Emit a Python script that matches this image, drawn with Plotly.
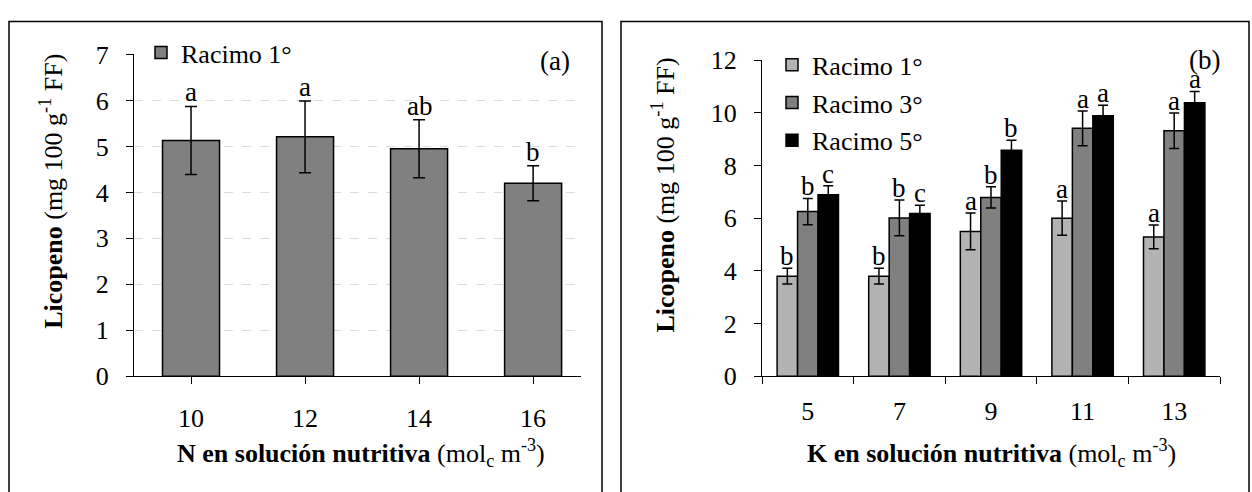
import plotly.graph_objects as go

W, H = 1252, 492
FONT = "Liberation Serif, Times New Roman, Times, serif"

# ---------------- data ----------------
n_cats = ["10", "12", "14", "16"]
n_r1 = [5.13, 5.21, 4.95, 4.20]
n_r1_err = [0.74, 0.78, 0.63, 0.38]
n_letters = ["a", "a", "ab", "b"]

k_cats = ["5", "7", "9", "11", "13"]
k_r1 = [3.80, 3.80, 5.50, 6.00, 5.29]
k_r1_err = [0.30, 0.30, 0.70, 0.65, 0.45]
k_r3 = [6.25, 6.01, 6.79, 9.41, 9.32]
k_r3_err = [0.50, 0.68, 0.40, 0.66, 0.67]
k_r5 = [6.89, 6.18, 8.58, 9.89, 10.38]
k_r5_err = [0.34, 0.31, 0.38, 0.40, 0.43]
k_r1_letters = ["b", "b", "a", "a", "a"]
k_r3_letters = ["b", "b", "b", "a", "a"]
k_r5_letters = ["c", "c", "b", "a", "a"]

series_names = ["Racimo 1°", "Racimo 3°", "Racimo 5°"]
series_colors = ["#b3b3b3", "#808080", "#000000"]


def px(x):
    return x / W


def py(y):
    return 1 - y / H


fig = go.Figure()

# left panel
fig.add_trace(go.Bar(
    x=n_cats, y=n_r1, name=series_names[0], width=0.5,
    marker=dict(color="#808080", line=dict(color="black", width=1.5)),
    error_y=dict(type="data", array=n_r1_err, color="black", thickness=1.5, width=6),
    xaxis="x", yaxis="y", legend="legend", showlegend=True,
))

# right panel
k_vals = [k_r1, k_r3, k_r5]
k_errs = [k_r1_err, k_r3_err, k_r5_err]
k_lets = [k_r1_letters, k_r3_letters, k_r5_letters]
for j in range(3):
    fig.add_trace(go.Bar(
        x=k_cats, y=k_vals[j], name=series_names[j],
        marker=dict(color=series_colors[j], line=dict(color="black", width=1.5)),
        error_y=dict(type="data", array=k_errs[j], color="black", thickness=1.5, width=5),
        xaxis="x2", yaxis="y2", legend="legend2", legendgroup="g%d" % j,
    ))

annotations = []
letter_font = dict(family=FONT, size=27, color="black")
for i, c in enumerate(n_cats):
    annotations.append(dict(
        x=i, y=n_r1[i] + n_r1_err[i], xref="x", yref="y", text=n_letters[i],
        showarrow=False, yanchor="bottom", font=letter_font, yshift=-3,
    ))

group_w = 1 - 0.33
bw = group_w / 3
for j in range(3):
    for i in range(len(k_cats)):
        annotations.append(dict(
            x=i + (j - 1) * bw, y=k_vals[j][i] + k_errs[j][i], xref="x2", yref="y2",
            text=k_lets[j][i], showarrow=False, yanchor="bottom", font=letter_font, yshift=-5,
        ))

title_font = dict(family=FONT, size=26, color="black")
ytitle = "<b>Licopeno</b> (mg 100 g<sup>-1</sup> FF)"
xtitle_n = "<b>N en solución nutritiva</b> (mol<sub>c</sub> m<sup>-3</sup>)"
xtitle_k = "<b>K en solución nutritiva</b> (mol<sub>c</sub> m<sup>-3</sup>)"
annotations += [
    dict(x=px(52), y=py(189), xref="paper", yref="paper", text=ytitle, textangle=-90,
         showarrow=False, font=title_font, xanchor="center", yanchor="middle"),
    dict(x=px(664), y=py(193), xref="paper", yref="paper", text=ytitle, textangle=-90,
         showarrow=False, font=title_font, xanchor="center", yanchor="middle"),
    dict(x=px(361), y=py(466), xref="paper", yref="paper", text=xtitle_n,
         showarrow=False, font=title_font, xanchor="center", yanchor="middle"),
    dict(x=px(991), y=py(466), xref="paper", yref="paper", text=xtitle_k,
         showarrow=False, font=title_font, xanchor="center", yanchor="middle"),
    dict(x=px(555), y=py(50), xref="paper", yref="paper", text="(a)",
         showarrow=False, font=dict(family=FONT, size=27, color="black"),
         xanchor="center", yanchor="middle"),
    dict(x=px(1204), y=py(49), xref="paper", yref="paper", text="(b)",
         showarrow=False, font=dict(family=FONT, size=27, color="black"),
         xanchor="center", yanchor="middle"),
]

shapes = [
    dict(type="rect", xref="paper", yref="paper", x0=px(9), x1=px(602), y0=py(520), y1=py(8),
         line=dict(color="black", width=1.5), fillcolor="rgba(0,0,0,0)", layer="below"),
    dict(type="rect", xref="paper", yref="paper", x0=px(621), x1=px(1249), y0=py(520), y1=py(8),
         line=dict(color="black", width=1.5), fillcolor="rgba(0,0,0,0)", layer="below"),
]

tick_font = dict(family=FONT, size=26, color="black")
axis_common = dict(showline=True, linecolor="black", linewidth=1.2, ticks="outside",
                   ticklen=7, tickcolor="black", tickwidth=1.2, tickfont=tick_font, zeroline=False)

fig.update_layout(
    width=W, height=H, margin=dict(l=0, r=0, t=0, b=0),
    paper_bgcolor="white", plot_bgcolor="white",
    barmode="group", bargap=0.33, bargroupgap=0,
    font=dict(family=FONT, color="black"),
    xaxis=dict(domain=[px(134), px(581)], anchor="y", type="category",
               categoryorder="array", categoryarray=n_cats, range=[-0.5, 3.42],
               showgrid=False, ticklabelstandoff=11, **axis_common),
    yaxis=dict(domain=[py(385), py(43)], anchor="x", range=[0, 7], dtick=1,
               showgrid=True, gridcolor="#dcdcdc", griddash="dash", gridwidth=1,
               ticklabelstandoff=12, **axis_common),
    xaxis2=dict(domain=[px(762), px(1220)], anchor="y2", type="category",
                categoryorder="array", categoryarray=k_cats, range=[-0.5, 4.5],
                tickson="boundaries", showgrid=False, ticklabelstandoff=11, **axis_common),
    yaxis2=dict(domain=[py(385), py(49)], anchor="x2", range=[0, 12], dtick=2,
                showgrid=False, ticklabelstandoff=12, **axis_common),
    legend=dict(x=px(141), y=py(16), xanchor="left", yanchor="top",
                font=dict(family=FONT, size=26, color="black"), bgcolor="rgba(0,0,0,0)",
                borderwidth=0, itemwidth=30),
    legend2=dict(x=px(772), y=py(29), xanchor="left", yanchor="top",
                 font=dict(family=FONT, size=26, color="black"), bgcolor="rgba(0,0,0,0)",
                 borderwidth=0, tracegroupgap=1, traceorder="grouped", itemwidth=30),
    annotations=annotations,
    shapes=shapes,
)

fig.write_html("out.html")
